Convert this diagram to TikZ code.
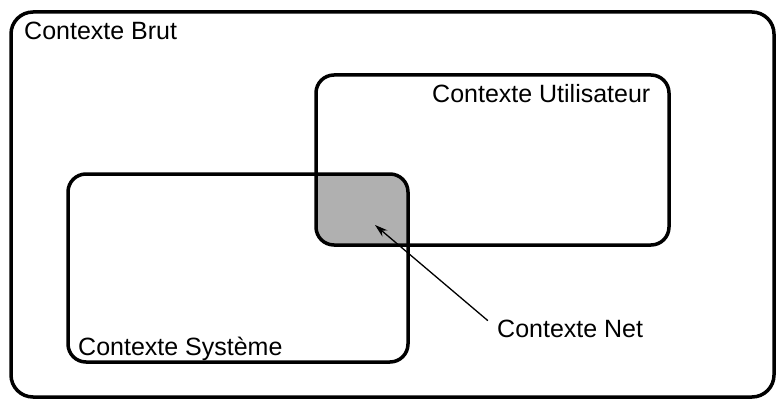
\documentclass[tikz,border=0pt]{standalone}
\usepackage{fontspec}
\setmainfont{Liberation Sans}
\usetikzlibrary{arrows.meta}

\begin{document}
\begin{tikzpicture}[x=1pt,y=-1pt,
    ctxbox/.style={draw=black,line width=3.5pt,rounded corners=18pt},
    ctxtext/.style={anchor=base west,inner sep=0pt,font=\fontsize{25}{30}\selectfont},
    pointer/.style={-{Stealth[length=13pt,width=8pt]},line width=1.3pt}]
    \useasboundingbox (0,0) rectangle (776,401);
    % shared part of the two inner boxes
    \begin{scope}
        \clip[rounded corners=18pt] (68,174) rectangle (408,362);
        \fill[black!31,rounded corners=18pt] (316,75) rectangle (669,245);
    \end{scope}
    \draw[ctxbox,rounded corners=22pt] (11,12) rectangle (774,397);
    \draw[ctxbox] (316,75) rectangle (669,245);
    \draw[ctxbox] (68,174) rectangle (408,362);
    \node[ctxtext] (brut) at (24,40) {Contexte Brut};
    \node[ctxtext] (user) at (432,103) {Contexte Utilisateur};
    \node[ctxtext] (sys) at (78,355) {Contexte Système};
    \node[ctxtext] (net) at (497,337) {Contexte Net};
    \coordinate (tip) at (375,225);
    \draw[pointer,shorten <=12pt] (net.west) -- (tip);
\end{tikzpicture}
\end{document}
